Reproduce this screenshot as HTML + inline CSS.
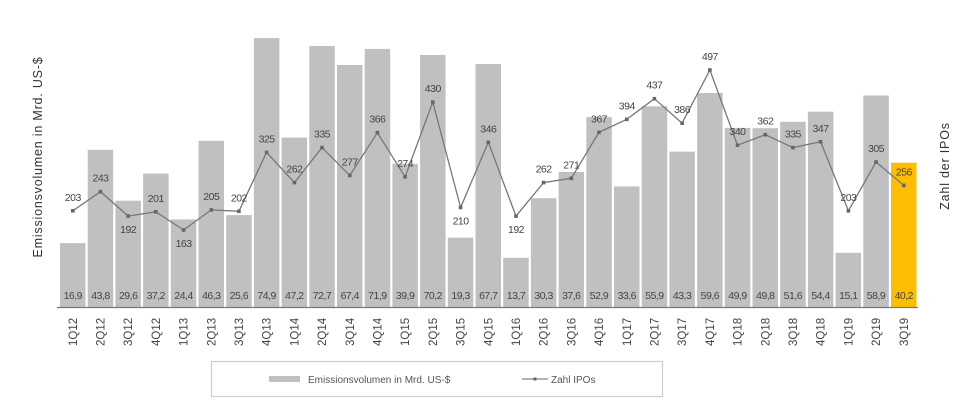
<!DOCTYPE html>
<html><head><meta charset="utf-8"><style>
html,body{margin:0;padding:0;background:#fff;width:960px;height:407px;overflow:hidden}
svg{display:block;font-family:"Liberation Sans",Arial,sans-serif}
</style></head><body>
<svg id="c" width="960" height="407" viewBox="0 0 960 407" xmlns="http://www.w3.org/2000/svg"></svg>
<script>
var bars=[17.8,43.8,29.6,37.2,24.4,46.3,25.6,74.9,47.2,72.7,67.4,71.9,39.9,70.2,19.3,67.7,13.7,30.3,37.6,52.9,33.6,55.9,43.3,59.6,49.9,49.8,51.6,54.4,15.1,58.9,40.2];
var bl=["16,9","43,8","29,6","37,2","24,4","46,3","25,6","74,9","47,2","72,7","67,4","71,9","39,9","70,2","19,3","67,7","13,7","30,3","37,6","52,9","33,6","55,9","43,3","59,6","49,9","49,8","51,6","54,4","15,1","58,9","40,2"];
var ipo=[203,243,192,201,163,205,202,325,262,335,277,366,274,430,210,346,192,262,271,367,394,437,386,497,340,362,335,347,203,305,256];
var below={2:1,4:1,14:1,16:1};
var q=[];for(var y=12;y<=19;y++)for(var k=1;k<=4;k++)q.push(k+"Q"+y);q=q.slice(0,31);
var s="";
var B=307,sc=3.59,p=27.7,x0=60,w=25.5;
var pts=[];
for(var i=0;i<31;i++){
 var x=x0+i*p,h=bars[i]*sc,cx=x+w/2;
 s+='<rect x="'+x.toFixed(1)+'" y="'+(B-h).toFixed(1)+'" width="'+w+'" height="'+h.toFixed(1)+'" fill="'+(i==30?'#fdbd00':'#c0c0c0')+'"/>';
 s+='<text x="'+cx.toFixed(1)+'" y="299" font-size="10.5" fill="#444" text-anchor="middle" letter-spacing="-0.5">'+bl[i]+'</text>';
 s+='<text transform="translate('+(cx+4).toFixed(1)+',346) rotate(-90)" font-size="11.5" fill="#444">'+q[i]+'</text>';
 var py=70+(497-ipo[i])*0.479;pts.push(cx.toFixed(1)+','+py.toFixed(1));
}
s+='<line x1="57" y1="307.5" x2="918" y2="307.5" stroke="#777" stroke-width="1.2"/>';
s+='<polyline points="'+pts.join(' ')+'" fill="none" stroke="#777" stroke-width="1.3"/>';
for(var i=0;i<31;i++){
 var xy=pts[i].split(',');
 s+='<rect x="'+(xy[0]-1.8)+'" y="'+(xy[1]-1.8)+'" width="3.6" height="3.6" fill="#666"/>';
 var ty=below[i]?(+xy[1]+17):(+xy[1]-10);
 s+='<text x="'+xy[0]+'" y="'+ty+'" font-size="10.5" fill="#444" text-anchor="middle" letter-spacing="-0.5">'+ipo[i]+'</text>';
}
s+='<text transform="translate(42,157) rotate(-90)" font-size="12.5" fill="#333" text-anchor="middle" letter-spacing="0.8">Emissionsvolumen in Mrd. US-$</text>';
s+='<text transform="translate(949,166) rotate(-90)" font-size="12.5" fill="#333" text-anchor="middle" letter-spacing="0.8">Zahl der IPOs</text>';
s+='<rect x="211.5" y="361.5" width="451" height="35" fill="#fff" stroke="#ccc" stroke-width="1.2"/>';
s+='<rect x="269" y="376" width="31" height="6" fill="#c0c0c0"/>';
s+='<text x="308" y="383" font-size="10" fill="#555">Emissionsvolumen in Mrd. US-$</text>';
s+='<line x1="522" y1="379" x2="548" y2="379" stroke="#666"/><rect x="533.5" y="377.5" width="3" height="3" fill="#666"/>';
s+='<text x="551" y="383" font-size="10" fill="#555">Zahl IPOs</text>';
document.getElementById('c').innerHTML=s;
</script>
</body></html>
